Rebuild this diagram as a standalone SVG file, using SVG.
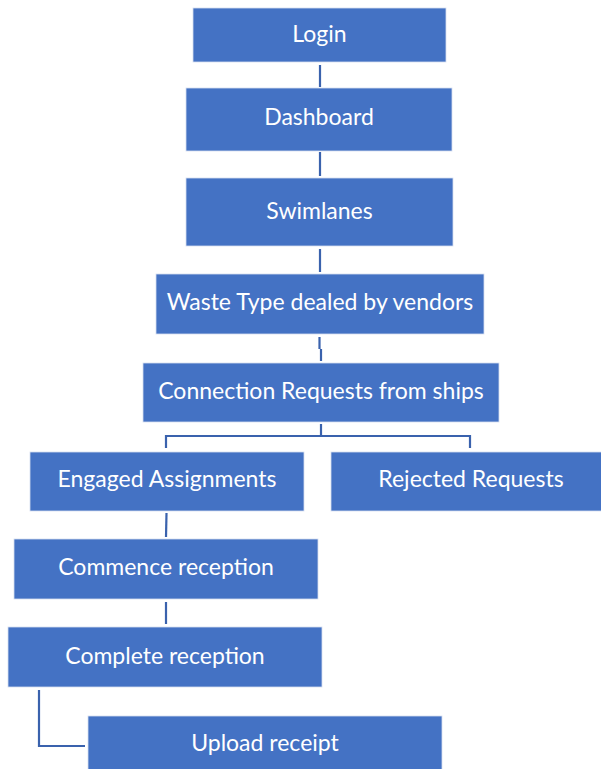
<svg xmlns="http://www.w3.org/2000/svg" width="601" height="769" viewBox="0 0 601 769">
<style>
.box{fill:#4472C4;stroke:#d6def0;stroke-width:0.8}
.lbl{fill:#ffffff;font-family:Lato,"Open Sans","Liberation Sans",sans-serif;font-size:23px;text-anchor:middle;dominant-baseline:central}
.con{fill:none;stroke:#3A62AD;stroke-width:2.2}
</style>
<rect width="601" height="769" fill="#ffffff"/>
<g id="connectors">
<path class="con" d="M320 65V87"/>
<path class="con" d="M320 152V176"/>
<path class="con" d="M320 249V272"/>
<path class="con" d="M319.5 337V349M321 349V361"/>
<path class="con" d="M321 424V436M166 448V436H470V448"/>
<path class="con" d="M166.5 513L166 537"/>
<path class="con" d="M166 602V624"/>
<path class="con" d="M39 690V746H85"/>
</g>
<g id="login"><rect class="box" x="193" y="8" width="253" height="54"/><text class="lbl" x="319.5" y="33">Login</text></g>
<g id="dashboard"><rect class="box" x="186" y="88" width="266" height="63"/><text class="lbl" x="319" y="116">Dashboard</text></g>
<g id="swimlanes"><rect class="box" x="186" y="178" width="267" height="68"/><text class="lbl" x="319.5" y="210">Swimlanes</text></g>
<g id="waste"><rect class="box" x="156" y="274" width="328" height="60"/><text class="lbl" x="320" y="301">Waste Type dealed by vendors</text></g>
<g id="connection"><rect class="box" x="143" y="363" width="356" height="59"/><text class="lbl" x="321" y="390">Connection Requests from ships</text></g>
<g id="engaged"><rect class="box" x="30" y="452" width="274" height="59"/><text class="lbl" x="167" y="478">Engaged Assignments</text></g>
<g id="rejected"><rect class="box" x="331" y="452" width="280" height="59"/><text class="lbl" x="471" y="478">Rejected Requests</text></g>
<g id="commence"><rect class="box" x="14" y="539" width="304" height="60"/><text class="lbl" x="166" y="566">Commence reception</text></g>
<g id="complete"><rect class="box" x="8" y="627" width="314" height="60"/><text class="lbl" x="165" y="655">Complete reception</text></g>
<g id="upload"><rect class="box" x="88" y="716" width="354" height="60"/><text class="lbl" x="265" y="742">Upload receipt</text></g>
</svg>
